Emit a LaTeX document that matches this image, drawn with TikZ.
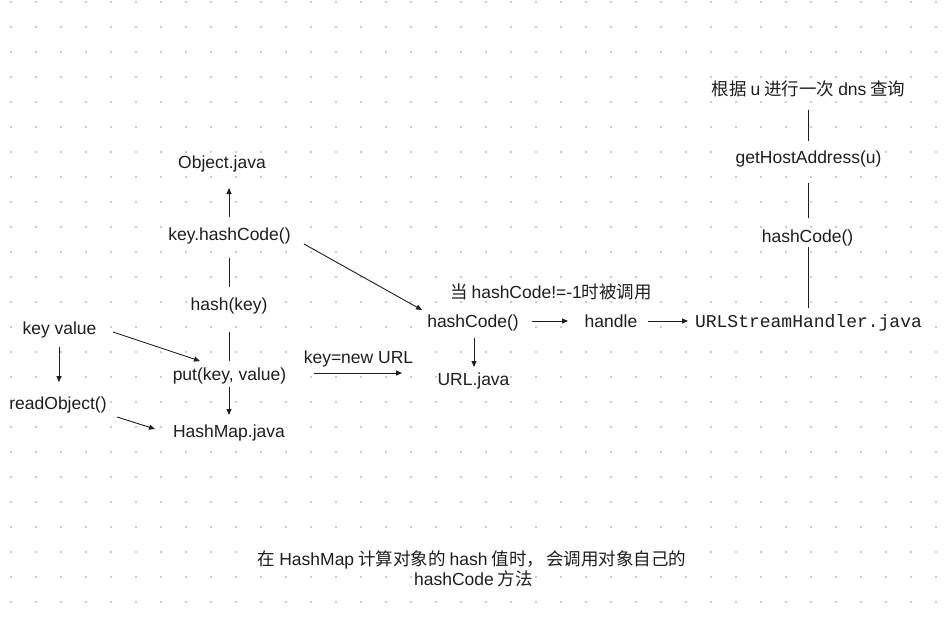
\documentclass[tikz,border=0pt]{standalone}
\usepackage{fontspec}
\setmainfont{Liberation Sans}
\setmonofont{Liberation Mono}
\newfontfamily\cjk{Noto Sans CJK SC}
\usetikzlibrary{arrows.meta}
\definecolor{ink}{HTML}{1E1E1E}
\definecolor{dotc}{HTML}{CCCCCC}
\tikzset{
  lbl/.style={anchor=base, inner sep=1pt, fill=white, text=ink, font=\fontsize{17.5}{21}\selectfont},
  mono/.style={lbl, font=\fontsize{18}{21}\ttfamily},
  conn/.style={draw=ink, line width=0.9pt},
  arr/.style={conn, -{Triangle[length=6pt,width=5pt]}},
}
\newcommand{\cg}{\hspace{4pt}}
\begin{document}
\begin{tikzpicture}[x=1pt,y=-1pt]
\useasboundingbox (0,0) rectangle (950,618);
% dot grid
\foreach \i in {0,...,37}{
  \foreach \j in {0,...,24}{
    \fill[dotc] ({10+25*\i},{1+25*\j}) rectangle ++(2,2);
  }
}
% nodes
\node[lbl] (obj)   at (222,168)   {Object.java};
\node[lbl] (kh)    at (229.5,240) {key.hashCode()};
\node[lbl] (hk)    at (229,310)   {hash(key)};
\node[lbl] (kv)    at (59.5,334)  {key value};
\node[lbl] (put)   at (229.5,380) {put(key, value)};
\node[lbl] (ro)    at (58,409)    {readObject()};
\node[lbl] (hm)    at (229,437)   {HashMap.java};
\node[lbl] (knu)   at (358.5,363) {key=new URL};
\node[lbl] (urlj)  at (473.5,385) {URL.java};
\node[lbl] (hc)    at (473,327)   {hashCode()};
\node[lbl] (cond)  at (551,298)   {{\cjk 当}\cg hashCode!=-1{\cjk 时被调用}};
\node[lbl] (handle) at (611,327)  {handle};
\node[mono] (ush)  at (808.5,327) {URLStreamHandler.java};
\node[lbl] (hc2)   at (807.5,242) {hashCode()};
\node[lbl] (gha)   at (808.5,163) {getHostAddress(u)};
\node[lbl] (dns)   at (808.5,95)  {{\cjk 根据}\cg u\cg{\cjk 进行一次}\cg dns\cg{\cjk 查询}};
\node[lbl] (note1) at (472,565)   {{\cjk 在}\cg HashMap\cg{\cjk 计算对象的}\cg hash\cg{\cjk 值时，}\hspace{2pt}{\cjk 会调用对象自己的}};
\node[lbl] (note2) at (473.5,585) {hashCode\cg{\cjk 方法}};
% connectors
\draw[arr]  ([shift={(-0.5,-23)}]kh.base) -- ([shift={(7,20)}]obj.base);
\draw[conn] ([shift={(0,-23)}]hk.base) -- ([shift={(-0.5,18)}]kh.base);
\draw[conn] ([shift={(-0.5,-19)}]put.base) -- ([shift={(0,22)}]hk.base);
\draw[arr]  ([shift={(-0.5,7)}]put.base) -- ([shift={(0,-22)}]hm.base);
\draw[arr]  ([shift={(53.5,-2)}]kv.base) -- ([shift={(-29.5,-19)}]put.base);
\draw[arr]  ([shift={(-0.5,13)}]kv.base) -- ([shift={(1,-27)}]ro.base);
\draw[arr]  ([shift={(59,8)}]ro.base) -- ([shift={(-74,-8)}]hm.base);
\draw[arr]  ([shift={(74.5,4)}]kh.base) -- ([shift={(-51,-17)}]hc.base);
\draw[arr]  ([shift={(-44.5,10)}]knu.base) -- ([shift={(-71.5,-12)}]urlj.base);
\draw[arr]  ([shift={(1,11)}]hc.base) -- ([shift={(0.5,-18)}]urlj.base);
\draw[arr]  ([shift={(59,-6)}]hc.base) -- ([shift={(-43,-6)}]handle.base);
\draw[arr]  ([shift={(37,-6)}]handle.base) -- ([shift={(-120.5,-6)}]ush.base);
\draw[conn] ([shift={(-0.5,-19)}]ush.base) -- ([shift={(0.5,5)}]hc2.base);
\draw[conn] ([shift={(0.5,-24)}]hc2.base) -- ([shift={(-0.5,20)}]gha.base);
\draw[conn] ([shift={(-0.5,-22)}]gha.base) -- ([shift={(-0.5,15)}]dns.base);
\end{tikzpicture}
\end{document}
